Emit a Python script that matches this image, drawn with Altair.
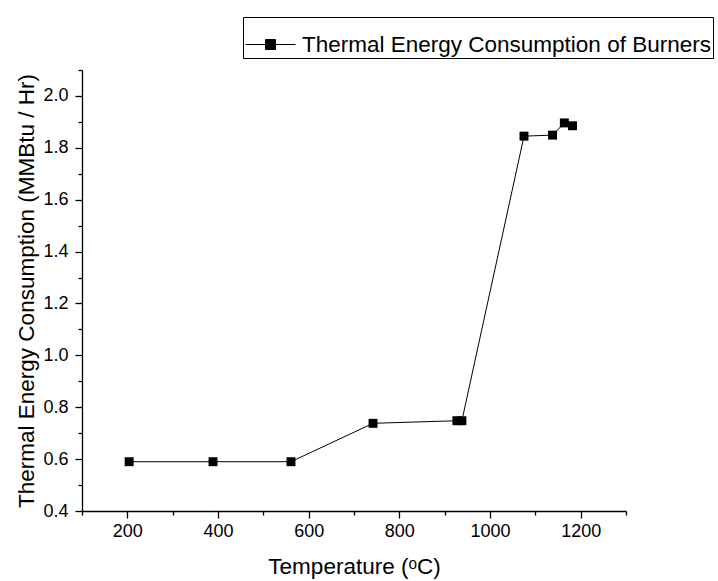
import altair as alt
import pandas as pd

# Data
temperature = [204, 389, 561, 742, 927, 938, 1075, 1138, 1164, 1182]
consumption = [0.59, 0.59, 0.59, 0.738, 0.748, 0.748, 1.845, 1.849, 1.896, 1.885]
series_name = "Thermal Energy Consumption of Burners"

x_ticks = [100, 200, 300, 400, 500, 600, 700, 800, 900, 1000, 1100, 1200, 1300]
y_ticks = [0.4, 0.5, 0.6, 0.7, 0.8, 0.9, 1.0, 1.1, 1.2, 1.3, 1.4, 1.5, 1.6, 1.7, 1.8, 1.9, 2.0, 2.1]

df = pd.DataFrame({"T": temperature, "E": consumption, "series": series_name})

FONT = "Liberation Sans"

legend_symbol = "M-1,0H-0.22M0.22,0H1M-0.2,-0.2H0.2V0.2H-0.2Z"

xenc = alt.X(
    "T:Q",
    scale=alt.Scale(domain=[100, 1300], nice=False, zero=False),
    axis=alt.Axis(
        values=x_ticks,
        format="d",
        labelExpr="datum.value % 200 == 0 ? datum.label : ''",
        tickSize={"condition": {"test": "datum.value % 200 == 0", "value": 7}, "value": 4},
        grid=False,
        titleFontSize=22.5,
        titleFontWeight="normal",
        titlePadding=15,
    ),
    title="Temperature (ᵒC)",
)
yenc = alt.Y(
    "E:Q",
    scale=alt.Scale(domain=[0.4, 2.1], nice=False, zero=False),
    axis=alt.Axis(
        values=y_ticks,
        labelExpr="round(datum.value * 10) % 2 == 0 ? format(datum.value, '.1f') : ''",
        tickSize={"condition": {"test": "round(datum.value * 10) % 2 == 0", "value": 7}, "value": 4},
        grid=False,
        titleFontSize=22.5,
        titleFontWeight="normal",
        titlePadding=4,
    ),
    title="Thermal Energy Consumption (MMBtu / Hr)",
)

line = alt.Chart(df).mark_line(color="black", strokeWidth=1).encode(x=xenc, y=yenc)
pts = alt.Chart(df).mark_point(shape="square", filled=True, size=80, opacity=1).encode(
    x=xenc,
    y=yenc,
    color=alt.Color(
        "series:N",
        scale=alt.Scale(range=["black"]),
        legend=alt.Legend(
            title=None,
            orient="none",
            legendX=161,
            legendY=-53,
            symbolType=legend_symbol,
            symbolSize=2500,
            symbolStrokeColor="black",
            symbolStrokeWidth=1,
            symbolFillColor="black",
            labelFontSize=22.5,
            labelFont=FONT,
            labelColor="black",
            labelLimit=0,
            labelOffset=6,
            strokeColor="black",
            padding=2,
            cornerRadius=0,
        ),
    ),
)

chart = (
    alt.layer(line, pts)
    .properties(
        width=544,
        height=441,
        autosize="none",
        padding={"left": 82, "top": 70, "right": 92, "bottom": 70},
    )
    .configure_view(stroke=None)
    .configure_axis(
        labelFont=FONT,
        titleFont=FONT,
        labelColor="black",
        titleColor="black",
        domainColor="black",
        tickColor="black",
        domainWidth=1.3,
        tickWidth=1.3,
        labelFontSize=18,
    )
    .configure_axisX(labelPadding=4)
    .configure_axisY(labelPadding=7)
)

chart.save("out.html", embed_options={"renderer": "svg", "actions": False})
